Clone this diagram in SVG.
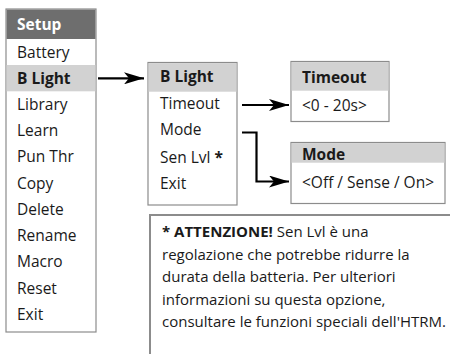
<svg xmlns="http://www.w3.org/2000/svg" width="450" height="354" viewBox="0 0 450 354">
<defs>
<style>
.box{fill:#fff;stroke:#8c8c8c;stroke-width:1.2}
.hdr{fill:#6e6e6e}
.hl{fill:#d2d2d2}
.t{font-family:"Open Sans","Noto Sans",sans-serif;font-size:15.5px;fill:#1a1a1a}
.b{font-weight:bold}
.w{fill:#fff}
.n{font-family:"Open Sans","Noto Sans",sans-serif;font-size:15px;fill:#1a1a1a}
.c{fill:none;stroke:#000;stroke-width:2.2}
</style>
<marker id="ah" viewBox="0 0 20 12" refX="20" refY="6" markerWidth="20" markerHeight="12" markerUnits="userSpaceOnUse" orient="auto">
<path d="M0,0 L20,6 L0,12 L5,6 Z" fill="#000"/>
</marker>
</defs>
<g id="setup">
<rect class="box" x="6" y="9" width="90" height="323"/>
<rect class="hdr" x="6.6" y="9.6" width="88.8" height="29.4"/>
<rect class="hl" x="6.6" y="65" width="88.8" height="26.3"/>
<text class="t b w" x="17" y="29.5">Setup</text>
<text class="t" x="17" y="57.5">Battery</text>
<text class="t b" x="17" y="83.5">B Light</text>
<text class="t" x="17" y="109.5">Library</text>
<text class="t" x="17" y="136">Learn</text>
<text class="t" x="17" y="162">Pun Thr</text>
<text class="t" x="17" y="188.5">Copy</text>
<text class="t" x="17" y="214.5">Delete</text>
<text class="t" x="17" y="241">Rename</text>
<text class="t" x="17" y="267">Macro</text>
<text class="t" x="17" y="293.5">Reset</text>
<text class="t" x="17" y="320">Exit</text>
</g>
<g id="blight">
<rect class="box" x="148" y="62.5" width="89" height="142.5"/>
<rect class="hl" x="148.6" y="63.1" width="87.8" height="28.6"/>
<text class="t b" x="160" y="82">B Light</text>
<text class="t" x="160" y="108.5">Timeout</text>
<text class="t" x="160" y="135">Mode</text>
<text class="t" x="160" y="162.5">Sen Lvl <tspan class="b">*</tspan></text>
<text class="t" x="160" y="189">Exit</text>
</g>
<g id="timeout">
<rect class="box" x="291" y="61.5" width="98" height="60"/>
<rect class="hl" x="291.6" y="62.1" width="96.8" height="28.6"/>
<text class="t b" x="302" y="82.5">Timeout</text>
<text class="t" x="302" y="110.5">&lt;0 - 20s&gt;</text>
</g>
<g id="mode">
<rect class="box" x="291" y="142.5" width="154" height="61"/>
<rect class="hl" x="291.6" y="143.1" width="152.8" height="19.6"/>
<text class="t b" x="302" y="159.5">Mode</text>
<text class="t" x="302" y="187.5">&lt;Off / Sense / On&gt;</text>
</g>
<g id="note">
<rect x="150" y="215" width="304" height="150" fill="#fff" stroke="#8c8c8c" stroke-width="2"/>
<text class="n" x="162" y="237"><tspan class="b">* ATTENZIONE!</tspan> Sen Lvl è una</text>
<text class="n" x="162" y="259.5">regolazione che potrebbe ridurre la</text>
<text class="n" x="162" y="282">durata della batteria. Per ulteriori</text>
<text class="n" x="162" y="304.5">informazioni su questa opzione,</text>
<text class="n" x="162" y="327">consultare le funzioni speciali dell'HTRM.</text>
</g>
<g id="connectors">
<path class="c" d="M98,78.3 H144" marker-end="url(#ah)"/>
<path class="c" d="M242,105 H289" marker-end="url(#ah)"/>
<path class="c" d="M242,132.5 H256.5 V181.5 H289" marker-end="url(#ah)"/>
</g>
</svg>
